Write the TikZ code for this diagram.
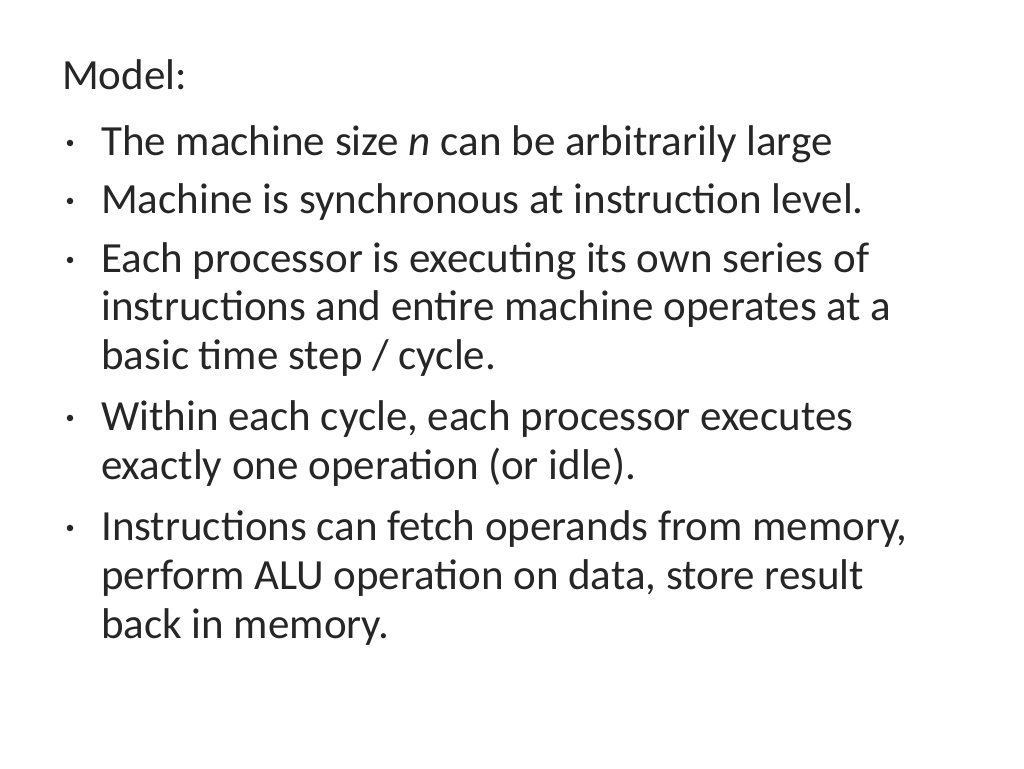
\documentclass[tikz,border=0pt]{standalone}
\usepackage{fontspec}
\setmainfont{Carlito}
\tikzstyle{line}=[anchor=base west,inner sep=0pt,font=\fontsize{43}{48}\selectfont]
\tikzstyle{dot}=[circle,fill=black!85,inner sep=0pt,minimum size=6.5pt]
\newcommand\Bullet[2]{
  \node[dot] (dot#1) at (70,768-#2+13) {};
}
\begin{document}
\begin{tikzpicture}[x=1pt,y=1pt,text=black!85]
  \useasboundingbox[fill=white] (0,0) rectangle (1024,768);
  \node[line] (title) at (62,768-90) {Model:};

  \Bullet{1}{156}
  \node[line] (l1) at (101,768-156) {The machine size \textit{n} can be arbitrarily large};
  \Bullet{2}{214}
  \node[line] (l2) at (101,768-214) {Machine is synchronous at instruction level.};
  \Bullet{3}{273}
  \node[line] (l3) at (101,768-273) {Each processor is executing its own series of};
  \node[line] (l4) at (101,768-321) {instructions and entire machine operates at a};
  \node[line] (l5) at (101,768-370) {basic time step / cycle.};
  \Bullet{4}{431}
  \node[line] (l6) at (101,768-431) {Within each cycle, each processor executes};
  \node[line] (l7) at (101,768-480) {exactly one operation (or idle).};
  \Bullet{5}{541}
  \node[line] (l8) at (101,768-541) {Instructions can fetch operands from memory,};
  \node[line] (l9) at (101,768-590) {perform ALU operation on data, store result};
  \node[line] (l10) at (101,768-638) {back in memory.};
\end{tikzpicture}
\end{document}
